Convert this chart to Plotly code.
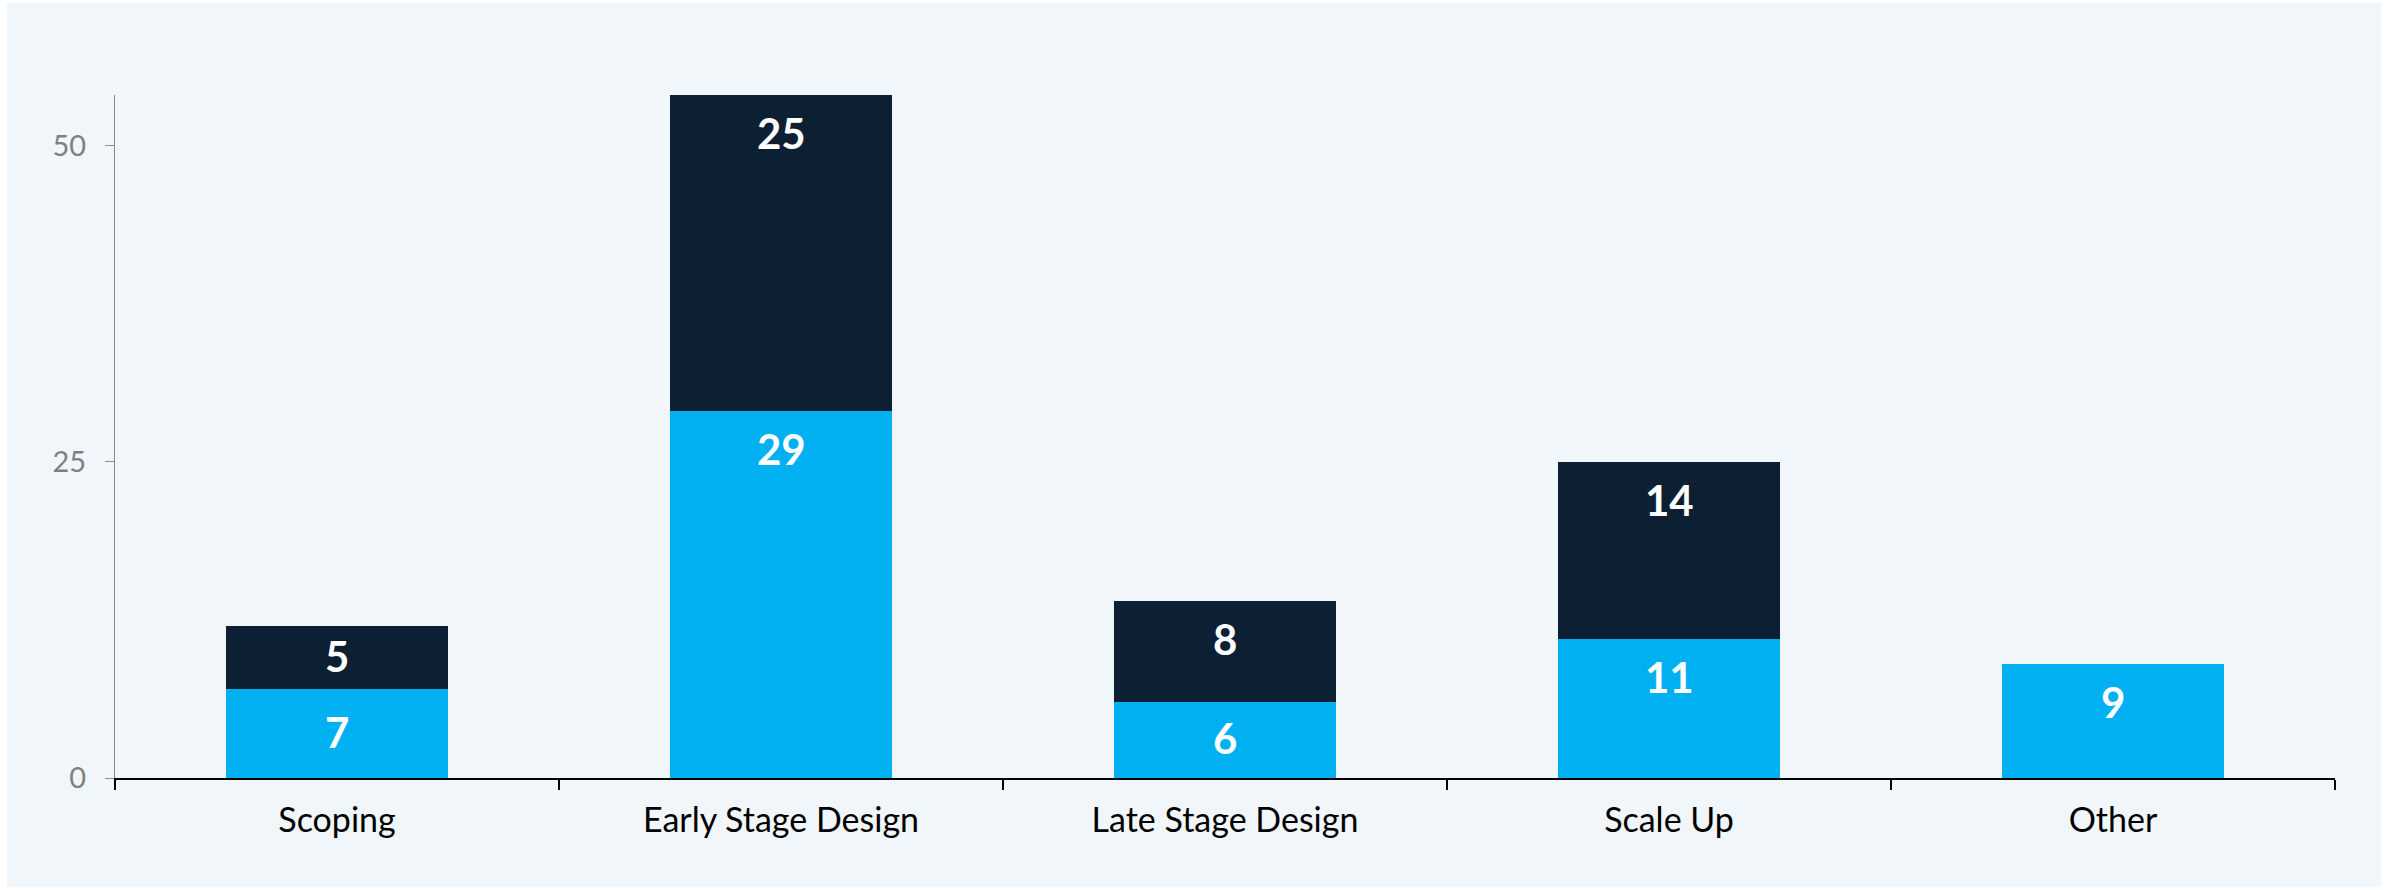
import plotly.graph_objects as go

categories = ["Scoping", "Early Stage Design", "Late Stage Design", "Scale Up", "Other"]
series_bottom = [7, 29, 6, 11, 9]
series_top = [5, 25, 8, 14, 0]
y_ticks = [0, 25, 50]

CYAN = "#00b0f0"
NAVY = "#0c1f33"
BG = "#f1f6fa"

W, H = 2392, 890
ML, MR, MT, MB = 115, 57, 95, 112
plot_w = W - ML - MR
plot_h = H - MT - MB
ymax = max(b + t for b, t in zip(series_bottom, series_top))
pxu = plot_h / ymax

fig = go.Figure()
fig.add_trace(go.Bar(x=categories, y=series_bottom, marker=dict(color=CYAN, line=dict(width=0)),
                     hoverinfo="skip"))
fig.add_trace(go.Bar(x=categories, y=series_top, marker=dict(color=NAVY, line=dict(width=0)),
                     hoverinfo="skip"))

annotations = []
for i, cat in enumerate(categories):
    base = 0
    for vals in (series_bottom, series_top):
        v = vals[i]
        if v > 0:
            top = base + v
            # small segments: label centred; taller segments: label near the top
            off = v / 2 if v * pxu < 95 else 40 / pxu
            annotations.append(dict(x=cat, y=top - off, text=str(v), showarrow=False,
                                    xref="x", yref="y", yanchor="middle", yshift=2,
                                    font=dict(family="Lato", size=42, color="white", weight="bold")))
        base += v

fig.add_shape(type="rect", xref="paper", yref="paper", layer="below",
              x0=(7 - ML) / plot_w, x1=(2381 - ML) / plot_w,
              y0=(MT + plot_h - 887) / plot_h, y1=(MT + plot_h - 3) / plot_h,
              fillcolor=BG, line=dict(width=0))

fig.update_layout(
    width=W, height=H,
    barmode="stack", bargap=0.5,
    showlegend=False,
    paper_bgcolor="white", plot_bgcolor="rgba(0,0,0,0)",
    margin=dict(l=ML, r=MR, t=MT, b=MB, pad=0),
    annotations=annotations,
    font=dict(family="Lato"),
    xaxis=dict(
        showgrid=False, showline=True, linecolor="black", linewidth=2,
        ticks="outside", tickson="boundaries", ticklen=10, tickwidth=2, tickcolor="black",
        tickfont=dict(family="Lato", size=34, color="black"),
        ticklabelstandoff=11,
        range=[-0.5, len(categories) - 0.5],
    ),
    yaxis=dict(
        showgrid=False, zeroline=False, showline=True, linecolor="#8c8c8c", linewidth=1,
        ticks="outside", ticklen=9, tickwidth=1, tickcolor="#8c8c8c",
        tickvals=y_ticks, ticktext=[str(t) for t in y_ticks],
        tickfont=dict(family="Lato", size=29, color="#808080"),
        ticklabelstandoff=13,
        range=[0, ymax],
    ),
)

fig.write_html("out.html", config={"displayModeBar": False},
               post_script="document.body.style.margin='0';document.body.style.overflow='hidden';")
